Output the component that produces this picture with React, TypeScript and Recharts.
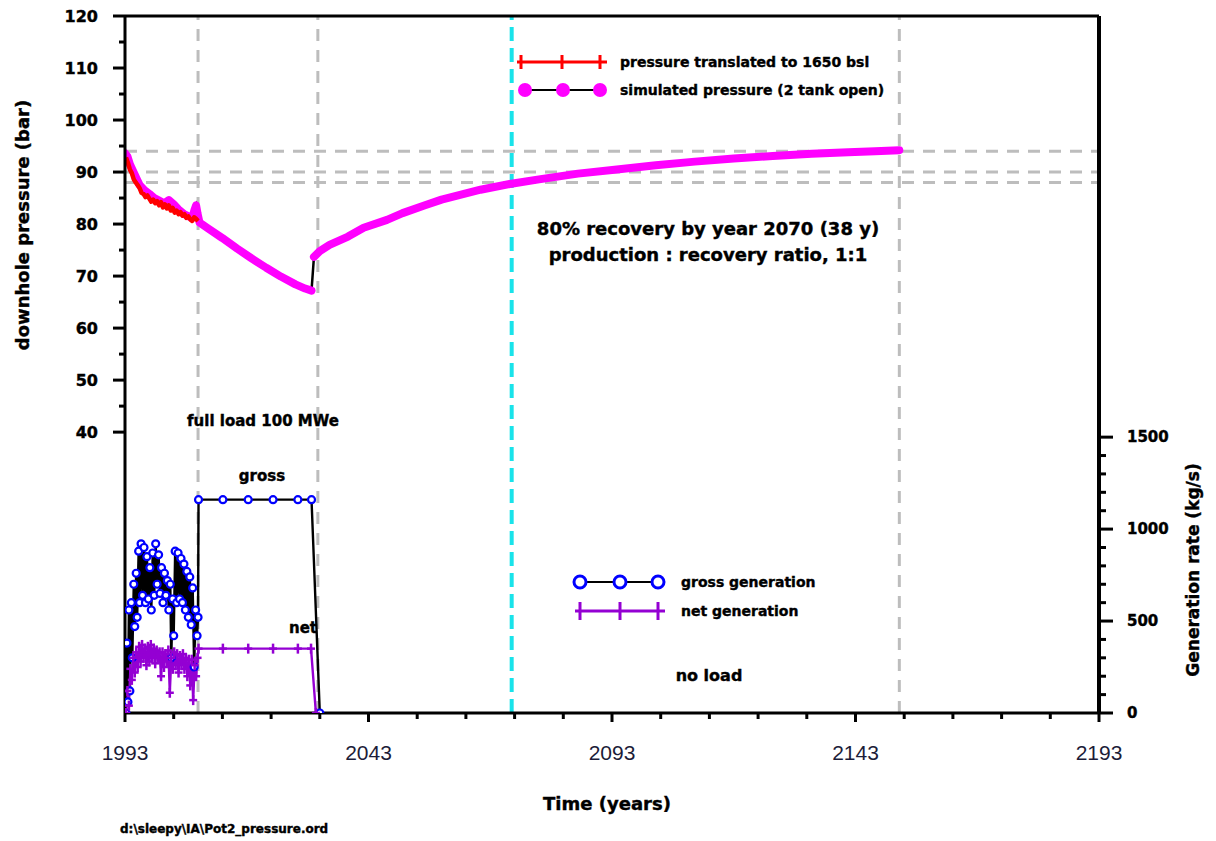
import React from 'react';
import {
  ComposedChart,
  Line,
  XAxis,
  YAxis,
  ReferenceLine,
} from 'recharts';

// measured pressure translated to 1650 bsl (bar)
const measuredYears = [1993.2, 1993.6, 1994.0, 1994.4, 1994.8, 1995.2, 1995.6, 1996.0, 1996.4, 1996.8, 1997.2, 1997.6, 1998.0, 1998.4, 1998.8, 1999.2, 1999.6, 2000.0, 2000.4, 2000.8, 2001.2, 2001.6, 2002.0, 2002.4, 2002.8, 2003.2, 2003.6, 2004.0, 2004.4, 2004.8, 2005.2, 2005.6, 2006.0, 2006.4, 2006.8, 2007.2, 2007.6, 2008.0];
const measuredP = [92.8, 91.8, 90.5, 89.8, 88.6, 88.0, 87.5, 86.9, 86.0, 85.8, 85.2, 85.5, 84.9, 84.3, 84.7, 84.0, 84.4, 83.6, 84.2, 83.2, 83.8, 83.0, 83.6, 82.6, 83.1, 82.2, 82.6, 81.9, 82.3, 81.6, 81.9, 81.2, 81.5, 80.9, 80.6, 81.3, 81.0, 80.6];

// simulated pressure (2 tank open)
const simYears = [1993.0, 1993.5, 1994, 1994.5, 1995, 1995.5, 1996, 1997, 1998, 1999, 2000, 2001, 2002, 2003, 2004, 2005, 2006, 2006.8, 2007.3, 2007.6, 2007.9, 2008.3, 2010, 2013, 2016, 2019, 2022, 2025, 2028, 2030, 2031.3,
  2031.8, 2033, 2035, 2038.8, 2042, 2046.8, 2050, 2054.6, 2058, 2062.6, 2066, 2072, 2078, 2086, 2094, 2102, 2110, 2118, 2126, 2134, 2141.5, 2147, 2152];
const simP = [93.6, 93.0, 91.5, 90.5, 89.5, 88.5, 87.5, 86.5, 85.8, 85.0, 84.5, 84.0, 84.6, 83.8, 82.8, 82.0, 81.5, 81.2, 82.8, 83.6, 82.0, 80.3, 79.2, 77.3, 75.3, 73.4, 71.6, 69.9, 68.4, 67.6, 67.2,
  73.7, 74.8, 76.0, 77.6, 79.3, 80.8, 82.1, 83.6, 84.7, 85.8, 86.6, 87.7, 88.6, 89.7, 90.5, 91.3, 92.0, 92.6, 93.1, 93.5, 93.8, 94.0, 94.2];
const simBreak = 31; // index where the 2032 jump starts

// gross generation (kg/s)
const grossYears = [1993.2, 1993.4, 1993.6, 1993.8, 1994.0, 1994.3, 1994.5, 1994.8, 1995.0, 1995.3, 1995.5, 1995.8, 1996.0, 1996.3, 1996.6, 1996.9, 1997.2, 1997.5, 1997.8, 1998.1, 1998.4, 1998.7, 1999.0, 1999.3, 1999.6, 1999.9, 2000.2, 2000.5, 2000.8, 2001.1, 2001.4, 2001.7, 2002.0, 2002.3, 2002.5, 2002.8, 2003.0, 2003.3, 2003.6, 2003.9, 2004.2, 2004.5, 2004.8, 2005.1, 2005.4, 2005.7, 2006.0, 2006.3, 2006.6, 2006.9, 2007.2, 2007.5, 2007.8, 2008.0, 2008.1, 2013.1, 2018.3, 2023.4, 2028.5, 2031.3, 2033.0];
const grossG = [0, 380, 60, 560, 120, 600, 300, 700, 470, 760, 520, 880, 600, 920, 640, 900, 600, 850, 620, 790, 560, 870, 640, 920, 700, 860, 650, 790, 600, 760, 640, 720, 560, 700, 300, 620, 420, 880, 600, 870, 620, 840, 600, 810, 560, 770, 520, 740, 480, 680, 250, 560, 420, 520, 1160, 1160, 1160, 1160, 1160, 1160, 0];

// net generation (kg/s)
const netYears = [1993.2, 1993.5, 1993.8, 1994.1, 1994.4, 1994.7, 1995.0, 1995.3, 1995.6, 1995.9, 1996.2, 1996.5, 1996.8, 1997.1, 1997.4, 1997.7, 1998.0, 1998.3, 1998.6, 1998.9, 1999.2, 1999.5, 1999.8, 2000.1, 2000.4, 2000.7, 2001.0, 2001.3, 2001.6, 2001.9, 2002.2, 2002.5, 2002.8, 2003.1, 2003.4, 2003.7, 2004.0, 2004.3, 2004.6, 2004.9, 2005.2, 2005.5, 2005.8, 2006.1, 2006.4, 2006.7, 2007.0, 2007.3, 2007.6, 2007.9, 2008.1, 2013.1, 2018.3, 2023.4, 2028.5, 2031.2, 2032.2];
const netG = [0, 120, 40, 240, 180, 300, 220, 330, 250, 360, 280, 370, 300, 350, 260, 360, 280, 370, 300, 350, 270, 340, 300, 330, 200, 330, 250, 320, 280, 340, 110, 300, 240, 330, 260, 320, 220, 310, 260, 320, 240, 300, 200, 290, 150, 290, 70, 260, 200, 300, 350, 350, 350, 350, 350, 350, 0];

const xTicks = [1993, 2003, 2013, 2023, 2033, 2043, 2053, 2063, 2073, 2083, 2093, 2103, 2113, 2123, 2133, 2143, 2153, 2163, 2173, 2183, 2193];
const pTicks = [40, 45, 50, 55, 60, 65, 70, 75, 80, 85, 90, 95, 100, 105, 110, 115, 120];
const gTicks = [0, 100, 200, 300, 400, 500, 600, 700, 800, 900, 1000, 1100, 1200, 1300, 1400, 1500];
const grayYears = [2008, 2032.6, 2152];
const grayPressures = [94, 90, 88];
const recoveryYear = 2072.4;

const toPts = (xs: number[], vs: number[]) => xs.map((t, i) => ({ t, v: vs[i] }));

const measuredData = toPts(measuredYears, measuredP);
const simData = toPts(simYears, simP);
const simA = simData.slice(0, simBreak);
const simB = simData.slice(simBreak);
const grossData = toPts(grossYears, grossG);
const netData = toPts(netYears, netG);

const BOLD = { fontFamily: '"DejaVu Sans", sans-serif', fontWeight: 700 as const, fill: '#000', stroke: '#000', strokeWidth: 0.4 };

const LeftTick = (props: any) => {
  const { x, y, payload } = props;
  const ax = x + 27;
  const major = payload.value % 10 === 0;
  return (
    <g>
      <line x1={ax - (major ? 12 : 6)} x2={ax} y1={y} y2={y} stroke="#000" strokeWidth={3} />
      {major && (
        <text x={x} y={y} textAnchor="end" dominantBaseline="central" fontSize={16} {...BOLD}>
          {payload.value}
        </text>
      )}
    </g>
  );
};

const RightTick = (props: any) => {
  const { x, y, payload } = props;
  const ax = x - 28;
  const major = payload.value % 500 === 0;
  return (
    <g>
      <line x1={ax} x2={ax + (major ? 14 : 7)} y1={y} y2={y} stroke="#000" strokeWidth={3} />
      {major && (
        <text x={x} y={y} textAnchor="start" dominantBaseline="central" fontSize={15} {...BOLD}>
          {payload.value}
        </text>
      )}
    </g>
  );
};

const BottomTick = (props: any) => {
  const { x, y, payload } = props;
  const ay = y - 32;
  const major = (payload.value - 1993) % 50 === 0;
  return (
    <g>
      <line x1={x} x2={x} y1={ay} y2={ay + (major ? 9 : 6)} stroke="#000" strokeWidth={3} />
      {major && (
        <text x={x} y={y} textAnchor="middle" dy="0.72em" fontSize={21} fontFamily='"Liberation Sans Narrow", "Liberation Sans", Arial, sans-serif' fill="#1c1c38">
          {payload.value}
        </text>
      )}
    </g>
  );
};

const grossDot = (p: any) => (
  <circle key={`g${p.index}`} cx={p.cx} cy={p.cy} r={3.5} fill="#fff" stroke="#0000ff" strokeWidth={2.2} />
);

const netDot = (p: any) => (
  <g key={`n${p.index}`}>
    <line x1={p.cx - 4} x2={p.cx + 4} y1={p.cy} y2={p.cy} stroke="#9400d3" strokeWidth={2.5} />
    <line x1={p.cx} x2={p.cx} y1={p.cy - 5} y2={p.cy + 5} stroke="#9400d3" strokeWidth={2.5} />
  </g>
);

export default function App() {
  return (
    <div style={{ position: 'absolute', left: 0, top: 0, width: 1216, height: 841, background: '#fff' }}>
      <ComposedChart width={1216} height={841} margin={{ top: 16, right: 57, bottom: 88, left: 65 }}>
        <XAxis
          type="number"
          dataKey="t"
          domain={[1993, 2193]}
          ticks={xTicks}
          interval={0}
          allowDataOverflow
          height={40}
          tickLine={false}
          tickSize={8}
          tickMargin={24}
          tick={<BottomTick />}
          axisLine={{ stroke: '#000', strokeWidth: 3 }}
        />
        <YAxis
          yAxisId="p"
          orientation="left"
          width={60}
          domain={[-14, 120]}
          ticks={pTicks}
          interval={0}
          allowDataOverflow
          tickLine={false}
          tickSize={12}
          tickMargin={15}
          tick={<LeftTick />}
          axisLine={{ stroke: '#000', strokeWidth: 3 }}
        />
        <YAxis
          yAxisId="g"
          orientation="right"
          width={60}
          domain={[0, 3790]}
          ticks={gTicks}
          interval={0}
          allowDataOverflow
          tickLine={false}
          tickSize={14}
          tickMargin={14}
          tick={<RightTick />}
          axisLine={{ stroke: '#000', strokeWidth: 4 }}
        />

        {grayPressures.map((p) => (
          <ReferenceLine key={`h${p}`} yAxisId="p" y={p} stroke="#bdbdbd" strokeWidth={3} strokeDasharray="12 9" />
        ))}
        {grayYears.map((yr) => (
          <ReferenceLine key={`v${yr}`} yAxisId="p" x={yr} stroke="#bdbdbd" strokeWidth={3} strokeDasharray="12 9" />
        ))}
        <ReferenceLine yAxisId="p" x={recoveryYear} stroke="#19e3ea" strokeWidth={4} strokeDasharray="14 7" />
        <ReferenceLine yAxisId="p" y={120} stroke="#000" strokeWidth={3} />

        <Line data={grossData} dataKey="v" yAxisId="g" type="linear" stroke="#000" strokeWidth={2.4} dot={grossDot} isAnimationActive={false} />
        <Line data={netData} dataKey="v" yAxisId="g" type="linear" stroke="#9400d3" strokeWidth={2.4} dot={netDot} isAnimationActive={false} />

        <Line data={simData} dataKey="v" yAxisId="p" type="linear" stroke="#000" strokeWidth={2.5} dot={false} isAnimationActive={false} />
        <Line data={simA} dataKey="v" yAxisId="p" type="linear" stroke="#ff00ff" strokeWidth={8} strokeLinecap="round" strokeLinejoin="round" dot={false} isAnimationActive={false} />
        <Line data={simB} dataKey="v" yAxisId="p" type="linear" stroke="#ff00ff" strokeWidth={8} strokeLinecap="round" strokeLinejoin="round" dot={false} isAnimationActive={false} />
        <Line data={measuredData} dataKey="v" yAxisId="p" type="linear" stroke="#ff0000" strokeWidth={4.5} strokeLinejoin="round" dot={false} isAnimationActive={false} />
      </ComposedChart>

      <svg width={1216} height={841} style={{ position: 'absolute', left: 0, top: 0, pointerEvents: 'none' }}>
        {/* top legend */}
        <line x1={517} x2={607} y1={62} y2={62} stroke="#ff0000" strokeWidth={3} />
        {[521, 562, 600].map((cx) => (
          <line key={cx} x1={cx} x2={cx} y1={55} y2={69} stroke="#ff0000" strokeWidth={3} />
        ))}
        <text x={620} y={62} dominantBaseline="central" fontSize={14} {...BOLD}>pressure translated to 1650 bsl</text>
        <line x1={525} x2={600} y1={90} y2={90} stroke="#000" strokeWidth={2} />
        {[525, 563, 600].map((cx) => (
          <circle key={cx} cx={cx} cy={90} r={7} fill="#ff00ff" />
        ))}
        <text x={620} y={90} dominantBaseline="central" fontSize={14} {...BOLD}>simulated pressure (2 tank open)</text>

        {/* annotation */}
        <text x={708} y={228} textAnchor="middle" dominantBaseline="central" fontSize={18} {...BOLD}>80% recovery by year 2070 (38 y)</text>
        <text x={708} y={254} textAnchor="middle" dominantBaseline="central" fontSize={18} {...BOLD}>production : recovery ratio, 1:1</text>

        <text x={263} y={421} textAnchor="middle" dominantBaseline="central" fontSize={15} {...BOLD}>full load 100 MWe</text>
        <text x={262} y={476} textAnchor="middle" dominantBaseline="central" fontSize={15} {...BOLD}>gross</text>
        <text x={303} y={628} textAnchor="middle" dominantBaseline="central" fontSize={15} {...BOLD}>net</text>
        <text x={709} y={675} textAnchor="middle" dominantBaseline="central" fontSize={16} {...BOLD}>no load</text>

        {/* bottom legend */}
        <line x1={580} x2={658} y1={582} y2={582} stroke="#000" strokeWidth={2} />
        {[580, 620, 658].map((cx) => (
          <circle key={cx} cx={cx} cy={582} r={6} fill="#fff" stroke="#0000ff" strokeWidth={3} />
        ))}
        <text x={681} y={582} dominantBaseline="central" fontSize={14} {...BOLD}>gross generation</text>
        <line x1={575} x2={665} y1={611} y2={611} stroke="#9400d3" strokeWidth={3} />
        {[580, 620, 658].map((cx) => (
          <line key={cx} x1={cx} x2={cx} y1={602} y2={620} stroke="#9400d3" strokeWidth={3} />
        ))}
        <text x={681} y={611} dominantBaseline="central" fontSize={14} {...BOLD}>net generation</text>

        {/* axis titles */}
        <text transform="translate(22,225) rotate(-90)" textAnchor="middle" dominantBaseline="central" fontSize={18} {...BOLD}>downhole pressure (bar)</text>
        <text transform="translate(1193,570) rotate(-90)" textAnchor="middle" dominantBaseline="central" fontSize={17} {...BOLD}>Generation rate (kg/s)</text>
        <text x={607} y={803} textAnchor="middle" dominantBaseline="central" fontSize={18} {...BOLD}>Time (years)</text>
        <text x={120} y={829} dominantBaseline="central" fontSize={12} {...BOLD}>d:\sleepy\IA\Pot2_pressure.ord</text>
      </svg>
    </div>
  );
}
